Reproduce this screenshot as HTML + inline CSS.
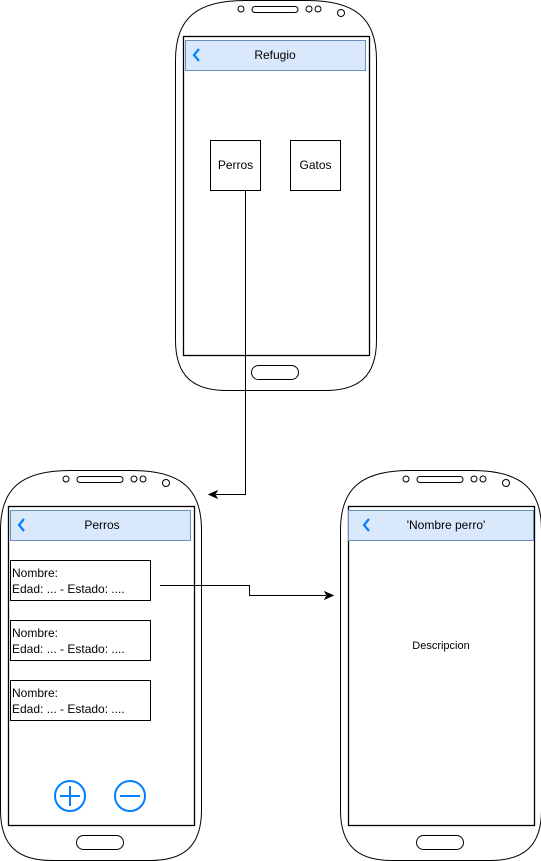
<!DOCTYPE html>
<html><head><style>
html,body{margin:0;padding:0;background:#fff;}
svg{display:block;font-family:"Liberation Sans",Arial,sans-serif;}
</style></head><body>
<svg width="541" height="861" viewBox="0 0 541 861" xmlns="http://www.w3.org/2000/svg">
<defs>
<g id="phone">
<path d="M0.5,60 C0.5,18 22,0.5 70,0.5 L132,0.5 C180,0.5 201.5,18 201.5,60 L201.5,340 C201.5,376 184,390.5 150,390.5 L52,390.5 C18,390.5 0.5,376 0.5,340 Z" fill="#fff" stroke="#000" stroke-width="1"/>
<rect x="8.5" y="36.5" width="186" height="319" fill="#fff" stroke="#000" stroke-width="1.3"/>
<circle cx="66" cy="9" r="3" fill="none" stroke="#000"/>
<rect x="77" y="6.5" width="46" height="6" rx="3" fill="none" stroke="#000"/>
<circle cx="134" cy="9" r="3" fill="none" stroke="#000"/>
<circle cx="143" cy="9" r="3" fill="none" stroke="#000"/>
<circle cx="166" cy="13" r="3.5" fill="none" stroke="#000"/>
<rect x="76.5" y="365.5" width="47" height="14" rx="7" fill="none" stroke="#000"/>
</g>
</defs>

<!-- top phone -->
<use href="#phone" x="175" y="0"/>
<rect x="185.5" y="40.5" width="180" height="30" fill="#dae8fc" stroke="#6c8ebf"/>
<path d="M199,49 L194,55 L199,61" fill="none" stroke="#007fff" stroke-width="2.2"/>
<text x="275" y="59" font-size="12" text-anchor="middle">Refugio</text>
<rect x="210.5" y="140.5" width="50" height="50" fill="#fff" stroke="#000"/>
<text x="235.5" y="169" font-size="12" text-anchor="middle">Perros</text>
<rect x="290.5" y="140.5" width="50" height="50" fill="#fff" stroke="#000"/>
<text x="315.5" y="169" font-size="12" text-anchor="middle">Gatos</text>

<!-- bottom-left phone -->
<use href="#phone" x="0" y="470"/>
<rect x="10.5" y="510.5" width="180" height="30" fill="#dae8fc" stroke="#6c8ebf"/>
<path d="M24,519 L19,525 L24,531" fill="none" stroke="#007fff" stroke-width="2.2"/>
<text x="102" y="529" font-size="12" text-anchor="middle">Perros</text>
<g font-size="12">
<rect x="10.5" y="560.5" width="140" height="40" fill="#fff" stroke="#000"/>
<text x="12" y="577">Nombre:</text><text x="12" y="593">Edad: ... - Estado: ....</text>
<rect x="10.5" y="620.5" width="140" height="40" fill="#fff" stroke="#000"/>
<text x="12" y="637">Nombre:</text><text x="12" y="653">Edad: ... - Estado: ....</text>
<rect x="10.5" y="680.5" width="140" height="40" fill="#fff" stroke="#000"/>
<text x="12" y="697">Nombre:</text><text x="12" y="713">Edad: ... - Estado: ....</text>
</g>
<circle cx="70" cy="796" r="15" fill="none" stroke="#007fff" stroke-width="2"/>
<path d="M60,796 H80 M70,786 V806" stroke="#007fff" stroke-width="2"/>
<circle cx="130" cy="796" r="15" fill="none" stroke="#007fff" stroke-width="2"/>
<path d="M120,796 H140" stroke="#007fff" stroke-width="2"/>

<!-- right phone -->
<use href="#phone" x="340" y="470"/>
<rect x="348.5" y="510.5" width="185" height="30" fill="#dae8fc" stroke="#6c8ebf"/>
<path d="M369,519 L364,525 L369,531" fill="none" stroke="#007fff" stroke-width="2.2"/>
<text x="446" y="529" font-size="12" text-anchor="middle">'Nombre perro'</text>
<text x="441" y="649" font-size="11" text-anchor="middle">Descripcion</text>

<!-- connectors -->
<path d="M245.5,190 V494.5 H216" fill="none" stroke="#000"/>
<path d="M209,494.5 L217,491 L215,494.5 L217,498 Z" fill="#000" stroke="#000"/>
<path d="M160,585.5 H249.5 V595.5 H326" fill="none" stroke="#000"/>
<path d="M333,595.5 L325,592 L327,595.5 L325,599 Z" fill="#000" stroke="#000"/>
</svg>
</body></html>
